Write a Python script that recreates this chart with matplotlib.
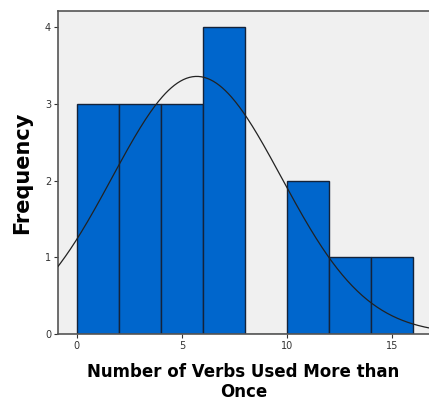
import numpy as np
import matplotlib.pyplot as plt

# histogram counts per bin (bin width 2)
bin_edges = [0, 2, 4, 6, 8, 10, 12, 14, 16]
counts = [3, 3, 3, 4, 0, 2, 1, 1]

# normal curve parameters
mean = 5.71
std = 4.04
n_total = sum(counts)
bin_width = 2

fig = plt.figure(figsize=(4.29, 4.05), dpi=100)
ax = fig.add_axes([58 / 429, 71 / 405, 371 / 429, 323 / 405])
ax.set_facecolor('#F0F0F0')

lefts = bin_edges[:-1]
ax.bar(lefts, counts, width=bin_width, align='edge',
       color='#0066CC', edgecolor='#14233A', linewidth=1.0, zorder=2)

xs = np.linspace(-1.5, 17.5, 400)
ys = n_total * bin_width / (std * np.sqrt(2 * np.pi)) * np.exp(-0.5 * ((xs - mean) / std) ** 2)
ax.plot(xs, ys, color='#222222', linewidth=0.9, zorder=3)

ax.set_xlim(-0.9, 16.77)
ax.set_ylim(0, 4.21)
ax.set_xticks([0, 5, 10, 15])
ax.set_yticks([0, 1, 2, 3, 4])
ax.tick_params(axis='both', labelsize=7, colors='#333333', length=3, width=0.8,
               direction='out', pad=2)

for side in ['left', 'top', 'bottom']:
    ax.spines[side].set_color('#555555')
    ax.spines[side].set_linewidth(1.2)
ax.spines['right'].set_visible(False)

ax.set_xlabel('Number of Verbs Used More than\nOnce', fontsize=12, fontweight='bold',
              linespacing=1.1, labelpad=9)
ax.set_ylabel('Frequency', fontsize=15, fontweight='bold', labelpad=9)

fig.savefig('out.png', dpi=100)
